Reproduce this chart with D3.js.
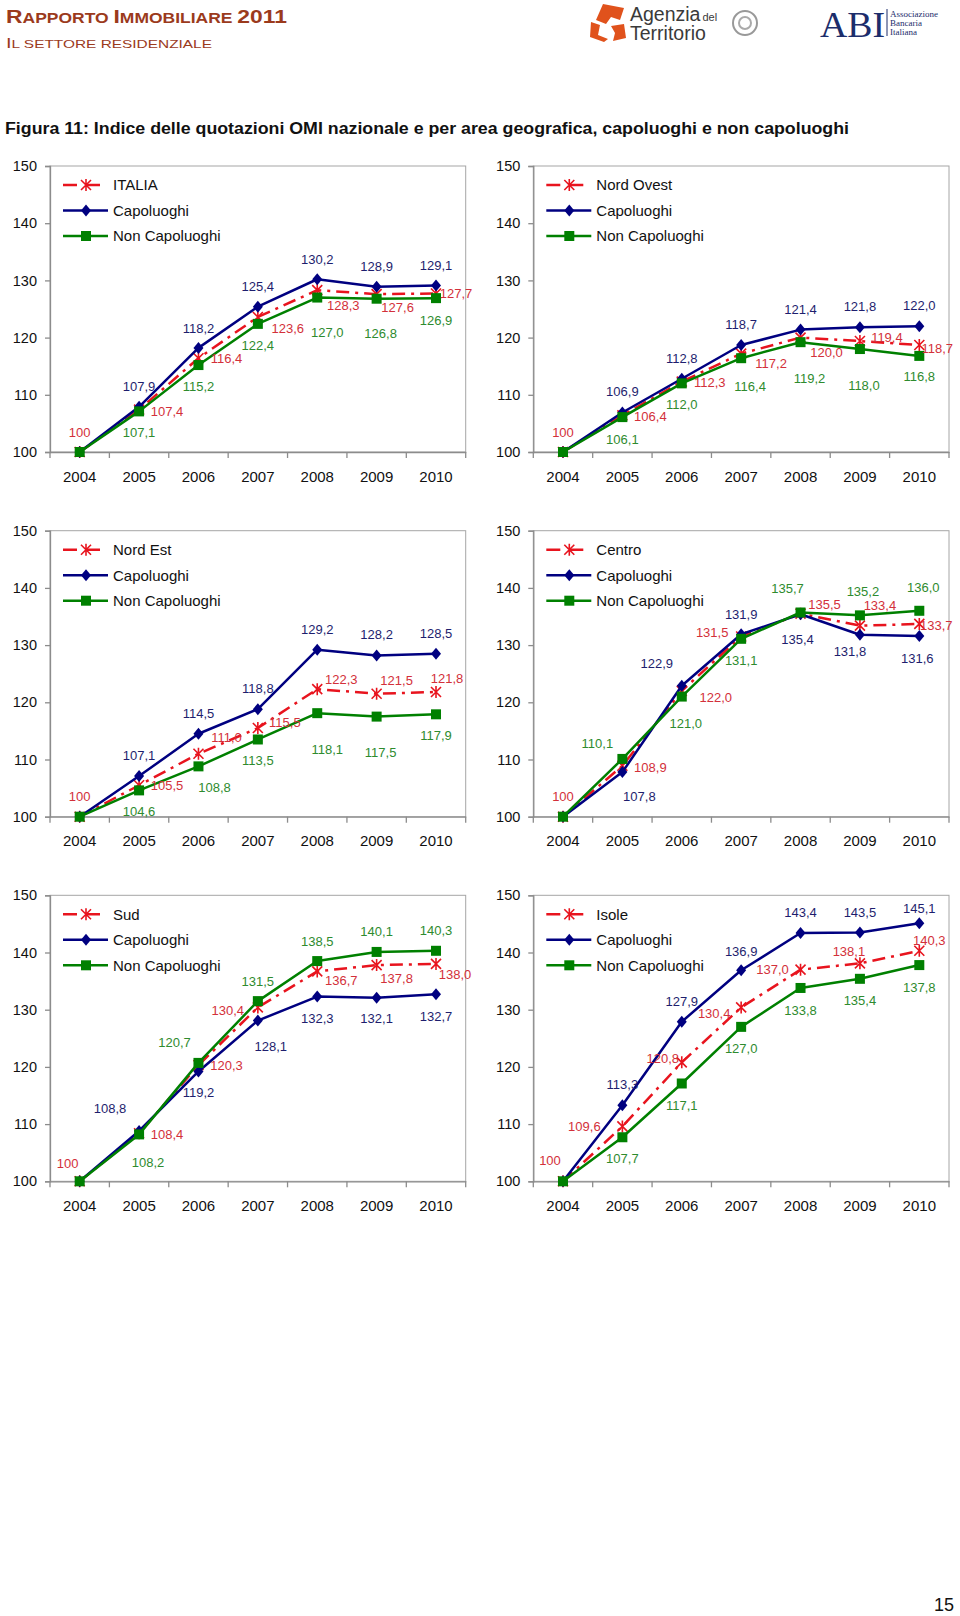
<!DOCTYPE html>
<html><head><meta charset="utf-8">
<script src="https://cdn.jsdelivr.net/npm/d3@7"></script>
<style>
body{margin:0;background:#fff;}
svg{display:block;font-family:"Liberation Sans",Arial,Helvetica,sans-serif;}
</style>
</head><body>
<svg id="c" width="960" height="1616"></svg>
<script>
// ---------- DATA ----------
const years = ["2004","2005","2006","2007","2008","2009","2010"];
const yTicks = [100,110,120,130,140,150];
const seriesNames = ["Capoluoghi","Non Capoluoghi"];
const areaNames = ["ITALIA","Nord Ovest","Nord Est","Centro","Sud","Isole"];

const italia          = [100,107.4,116.4,123.6,128.3,127.6,127.7];
const italiaCap       = [100,107.9,118.2,125.4,130.2,128.9,129.1];
const italiaNonCap    = [100,107.1,115.2,122.4,127.0,126.8,126.9];
const nordOvest       = [100,106.4,112.3,117.2,120.0,119.4,118.7];
const nordOvestCap    = [100,106.9,112.8,118.7,121.4,121.8,122.0];
const nordOvestNonCap = [100,106.1,112.0,116.4,119.2,118.0,116.8];
const nordEst         = [100,105.5,111.0,115.5,122.3,121.5,121.8];
const nordEstCap      = [100,107.1,114.5,118.8,129.2,128.2,128.5];
const nordEstNonCap   = [100,104.6,108.8,113.5,118.1,117.5,117.9];
const centro          = [100,108.9,122.0,131.5,135.5,133.4,133.7];
const centroCap       = [100,107.8,122.9,131.9,135.4,131.8,131.6];
const centroNonCap    = [100,110.1,121.0,131.1,135.7,135.2,136.0];
const sud             = [100,108.4,120.3,130.4,136.7,137.8,138.0];
const sudCap          = [100,108.8,119.2,128.1,132.3,132.1,132.7];
const sudNonCap       = [100,108.2,120.7,131.5,138.5,140.1,140.3];
const isole           = [100,109.6,120.8,130.4,137.0,138.1,140.3];
const isoleCap        = [100,113.3,127.9,136.9,143.4,143.5,145.1];
const isoleNonCap     = [100,107.7,117.1,127.0,133.8,135.4,137.8];

const panelData = [
  [italia, italiaCap, italiaNonCap],
  [nordOvest, nordOvestCap, nordOvestNonCap],
  [nordEst, nordEstCap, nordEstNonCap],
  [centro, centroCap, centroNonCap],
  [sud, sudCap, sudNonCap],
  [isole, isoleCap, isoleNonCap]
];

// ---------- LAYOUT (label offsets relative to points: [dx,dy]) ----------
const labelOffsets = [
  { // ITALIA
    a:[[0,-20],[28,1.5],[28,0],[30,11],[26,15],[21,13],[20,0]],
    c:[null,[0,-20],[0,-20],[0,-20],[0,-20],[0,-20],[0,-20]],
    n:[null,[0,21],[0,21.5],[0,21.5],[10,35],[4,35],[0,22]]
  },
  { // Nord Ovest
    a:[[0,-20],[28,1],[28,1],[30,10],[26,15],[27,-4],[18,3]],
    c:[null,[0,-21],[0,-20],[0,-20.5],[0,-20],[0,-20.5],[0,-20.5]],
    n:[null,[0,22],[0,21],[9,28],[9,36],[4,36],[0,20]]
  },
  { // Nord Est
    a:[[0,-20],[28,0],[28,-16],[27,-6],[24,-10],[20,-13],[11,-14]],
    c:[null,[0,-21],[0,-20],[0,-21],[0,-20],[0,-21],[0,-20]],
    n:[null,[0,21],[16,21],[0,21],[10,36],[4,36],[0,21]]
  },
  { // Centro
    a:[[0,-20],[28,1.5],[34,6],[-29,-4],[24,-9],[20,-20],[17,1]],
    c:[null,[17,24],[-25,-22],[0,-20],[-3,25],[-10,17],[-2,22]],
    n:[null,[-25,-15.5],[4,27],[0,22],[-13,-24],[3,-24],[4,-23]]
  },
  { // Sud
    a:[[-12,-18],[28,1],[28,0],[-30,3],[24,9],[20,13.5],[19,10]],
    c:[null,[-29,-23],[0,21],[13,26],[0,21.5],[0,21],[0,22]],
    n:[null,[9,27.6],[-24,-21],[0,-20],[0,-20],[0,-20.5],[0,-20.5]]
  },
  { // Isole
    a:[[-13,-21],[-38,0],[-19,-4],[-27,6],[-28,0],[-11,-12],[10,-10]],
    c:[null,[0,-21],[0,-20],[0,-19],[0,-20.5],[0,-20],[0,-15]],
    n:[null,[0,21],[0,22],[0,21],[0,22],[0,22],[0,22]]
  }
];

const colLeft = [50, 533.3], plotW = 415.7;
const rowTop = [166, 530.7, 895.3], plotH = 286;

const C = {
  red:"#e8141e", redTxt:"#d3303a",
  navy:"#000080", navyTxt:"#1e1e6e",
  green:"#008000", greenTxt:"#2e8b2e",
  axis:"#8c8c8c", frame:"#a6a6a6", txt:"#111"
};

const svg = d3.select("#c");

// ---------- HEADER ----------
const hdr = svg.append("g").attr("fill","#9b3a1c");
const t1 = hdr.append("text").attr("x",6).attr("y",23).attr("font-weight","bold")
  .attr("textLength",281).attr("lengthAdjust","spacingAndGlyphs");
[["R",19],["APPORTO ",14.5],["I",19],["MMOBILIARE ",14.5],["2011",19]].forEach(([s,f])=>t1.append("tspan").attr("font-size",f).text(s));
const t2 = hdr.append("text").attr("x",6).attr("y",48)
  .attr("textLength",206).attr("lengthAdjust","spacingAndGlyphs");
[["I",15],["L SETTORE RESIDENZIALE",11.5]].forEach(([s,f])=>t2.append("tspan").attr("font-size",f).text(s));

// Agenzia del Territorio logo
const lg = svg.append("g");
lg.append("path").attr("fill","#e0521c")
  .attr("d","M603,4 L624,8 L620,20 L611,17 L606,24 L596,20 Z");
lg.append("path").attr("fill","#e0521c")
  .attr("d","M591,22 L600,25 L598,35 L608,39 L604,42 L590,37 Z");
lg.append("path").attr("fill","#e0521c")
  .attr("d","M611,26 L624,24 L626,38 L613,41 L615,33 Z");
lg.append("text").attr("x",630).attr("y",21).attr("font-size",19.5).attr("fill","#3a3a3a")
  .text("Agenzia").append("tspan").attr("font-size",11).attr("dx",2).text("del");
lg.append("text").attr("x",630).attr("y",40).attr("font-size",19.5).attr("fill","#3a3a3a").text("Territorio");
lg.append("circle").attr("cx",745).attr("cy",23).attr("r",12).attr("fill","none").attr("stroke","#999").attr("stroke-width",2);
lg.append("circle").attr("cx",745).attr("cy",23).attr("r",6).attr("fill","none").attr("stroke","#aaa").attr("stroke-width",2);
// ABI logo
lg.append("text").attr("x",820).attr("y",37).attr("font-size",36).attr("font-family","'Liberation Serif',serif")
  .attr("fill","#1c2d6b").attr("textLength",65).attr("lengthAdjust","spacingAndGlyphs").text("ABI");
lg.append("line").attr("x1",887).attr("x2",887).attr("y1",9).attr("y2",36).attr("stroke","#1c2d6b").attr("stroke-width",1);
["Associazione","Bancaria","Italiana"].forEach((s,i)=>lg.append("text").attr("x",890).attr("y",17+i*9)
  .attr("font-size",9).attr("font-family","'Liberation Serif',serif").attr("fill","#1c2d6b").text(s));

// Title
svg.append("text").attr("x",5).attr("y",134).attr("font-size",16).attr("font-weight","bold").attr("fill","#111")
  .attr("textLength",844).attr("lengthAdjust","spacingAndGlyphs")
  .text("Figura 11: Indice delle quotazioni OMI  nazionale e per area geografica, capoluoghi e non capoluoghi");

// page number
svg.append("text").attr("x",954).attr("y",1611).attr("text-anchor","end").attr("font-size",18).attr("fill","#111").text("15");

// ---------- MARKERS ----------
const diamondPath = "M0,-6L5,0L0,6L-5,0Z";
function drawMarker(g, kind, x, y){
  if(kind==="a"){
    g.append("path").attr("transform",`translate(${x},${y})`)
      .attr("d","M-5,-5L5,5M-5,5L5,-5M0,-6L0,6").attr("stroke",C.red).attr("stroke-width",1.6).attr("fill","none");
  } else if(kind==="c"){
    g.append("path").attr("transform",`translate(${x},${y})`).attr("d",diamondPath).attr("fill",C.navy);
  } else {
    g.append("rect").attr("x",x-5).attr("y",y-5).attr("width",10).attr("height",10).attr("fill",C.green);
  }
}
const fmt = (v,i)=> (i===0 && v===100) ? "100" : v.toFixed(1).replace(".",",");

// ---------- PANELS ----------
panelData.forEach((series, p)=>{
  const left = colLeft[p%2], top = rowTop[Math.floor(p/2)];
  const right = left+plotW, bottom = top+plotH;
  const x = d3.scaleBand().domain(years).range([left,right]).padding(0);
  const y = d3.scaleLinear().domain([100,150]).range([bottom,top]);
  const cx = d=> x(d)+x.bandwidth()/2;
  const g = svg.append("g");

  // frame
  g.append("rect").attr("x",left).attr("y",top).attr("width",plotW).attr("height",plotH)
    .attr("fill","none").attr("stroke",C.frame).attr("stroke-width",1);

  // y axis
  const ya = g.append("g").attr("transform",`translate(${left},0)`)
    .call(d3.axisLeft(y).tickValues(yTicks).tickSize(5).tickPadding(8).tickFormat(d3.format("d")));
  ya.select(".domain").attr("stroke",C.axis).attr("stroke-width",1.3);
  ya.selectAll(".tick line").attr("stroke",C.axis).attr("stroke-width",1.3);
  ya.selectAll("text").attr("font-size",14.5).attr("fill",C.txt).attr("font-family","'Liberation Sans',Arial,sans-serif");

  // x axis
  const xa = g.append("g").attr("transform",`translate(0,${bottom})`)
    .call(d3.axisBottom(x).tickSize(0).tickPadding(19));
  xa.select(".domain").attr("stroke",C.axis).attr("stroke-width",1.3);
  xa.selectAll("text").attr("font-size",15).attr("fill",C.txt).attr("font-family","'Liberation Sans',Arial,sans-serif");
  const bounds = years.map(d=>x(d)).concat([right]);
  g.selectAll(null).data(bounds).enter().append("line")
    .attr("x1",d=>d).attr("x2",d=>d).attr("y1",bottom).attr("y2",bottom+6)
    .attr("stroke",C.axis).attr("stroke-width",1.3);

  // lines
  const kinds = ["a","c","n"];
  const stroke = {a:C.red,c:C.navy,n:C.green};
  kinds.forEach((k,si)=>{
    const vals = series[si];
    const line = d3.line().x((v,i)=>cx(years[i])).y(v=>y(v));
    const path = g.append("path").datum(vals).attr("d",line).attr("fill","none")
      .attr("stroke",stroke[k]).attr("stroke-width",2.5).attr("stroke-linejoin","round");
    if(k==="a") path.attr("stroke-dasharray","13,6,3,6");
    vals.forEach((v,i)=>drawMarker(g,k,cx(years[i]),y(v)));
  });

  // labels
  const txtCol = {a:C.redTxt,c:C.navyTxt,n:C.greenTxt};
  kinds.forEach((k,si)=>{
    const vals = series[si];
    vals.forEach((v,i)=>{
      const off = labelOffsets[p][k][i];
      if(!off) return;
      g.append("text").attr("x",cx(years[i])+off[0]).attr("y",y(v)+off[1]).attr("dy","0.36em")
        .attr("text-anchor","middle").attr("font-size",13).attr("fill",txtCol[k]).text(fmt(v,i));
    });
  });

  // legend
  const lx = left+13, names = [areaNames[p]].concat(seriesNames);
  kinds.forEach((k,si)=>{
    const ly = top+19+si*25.5;
    const l = g.append("line").attr("x1",lx).attr("x2",lx+45).attr("y1",ly).attr("y2",ly)
      .attr("stroke",stroke[k]).attr("stroke-width",2.5);
    if(k==="a") l.attr("stroke-dasharray","14,9,14");
    drawMarker(g,k,lx+23,ly);
    g.append("text").attr("x",left+63).attr("y",ly).attr("dy","0.36em").attr("font-size",15)
      .attr("fill",C.txt).text(names[si]);
  });
});
</script>
</body></html>
